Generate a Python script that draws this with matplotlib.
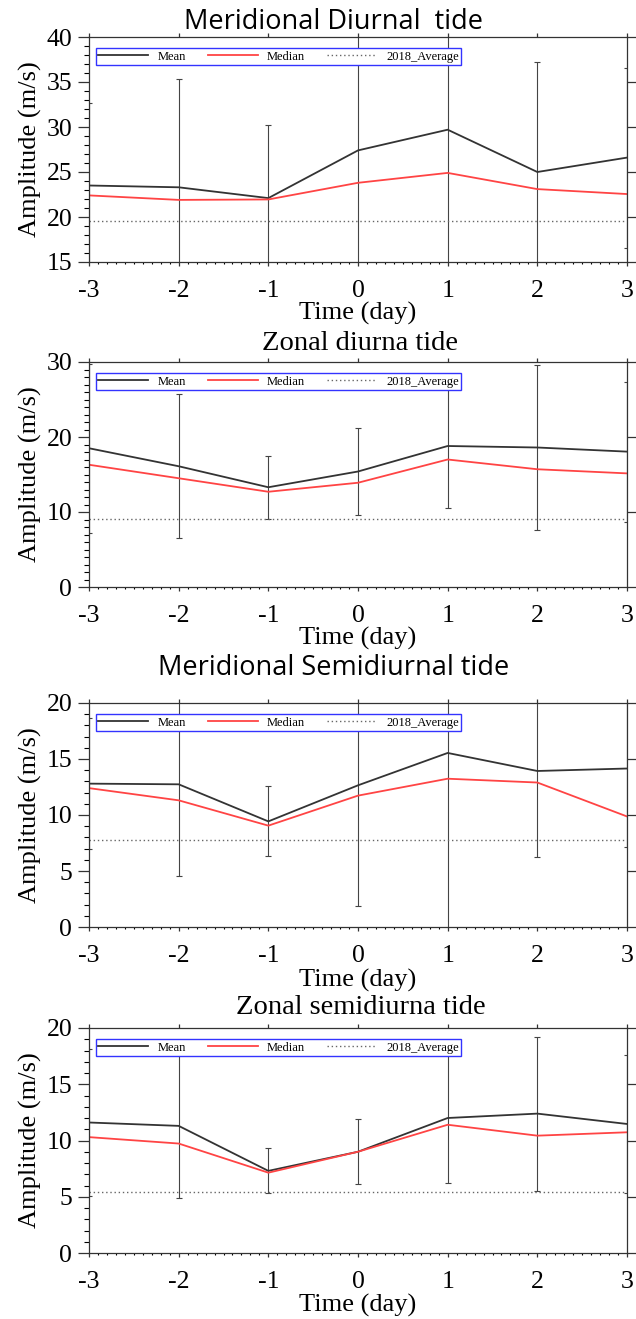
import matplotlib.pyplot as plt
from matplotlib.ticker import MultipleLocator

plt.rcParams["axes.unicode_minus"] = False

# days relative to the event
days = [-3, -2, -1, 0, 1, 2, 3]

titles = ["Meridional Diurnal  tide", "Zonal diurna tide",
          "Meridional Semidiurnal tide", "Zonal semidiurna tide"]

# Meridional diurnal
md_mean = [23.5, 23.3, 22.1, 27.4, 29.7, 25.0, 26.6]
md_median = [22.4, 21.9, 21.95, 23.8, 24.9, 23.1, 22.55]
md_std = [9.2, 12.05, 8.1, 14.5, 16.0, 12.2, 10.0]
md_avg = 19.6

# Zonal diurnal
zd_mean = [18.5, 16.1, 13.3, 15.4, 18.8, 18.6, 18.05]
zd_median = [16.3, 14.5, 12.7, 13.9, 17.0, 15.7, 15.15]
zd_std = [11.3, 9.6, 4.2, 5.8, 8.3, 11.0, 9.35]
zd_avg = 9.05

# Meridional semidiurnal
ms_mean = [12.8, 12.74, 9.43, 12.65, 15.54, 13.93, 14.15]
ms_median = [12.4, 11.31, 9.05, 11.73, 13.24, 12.9, 9.87]
ms_std = [5.85, 8.16, 3.13, 10.8, 17.0, 7.7, 7.0]
ms_avg = 7.78

# Zonal semidiurnal
zs_mean = [11.6, 11.3, 7.3, 9.0, 12.0, 12.39, 11.47]
zs_median = [10.3, 9.73, 7.14, 9.0, 11.4, 10.43, 10.73]
zs_std = [6.5, 6.4, 2.0, 2.9, 5.8, 6.85, 6.1]
zs_avg = 5.45

ylims = [(15, 40), (0, 30), (0, 20), (0, 20)]
ymajor = [5, 10, 5, 5]

panels = [(md_mean, md_median, md_std, md_avg),
          (zd_mean, zd_median, zd_std, zd_avg),
          (ms_mean, ms_median, ms_std, ms_avg),
          (zs_mean, zs_median, zs_std, zs_avg)]

W, H = 636, 1319
fig = plt.figure(figsize=(W / 100, H / 100), dpi=100)

serif = ["Liberation Serif", "DejaVu Serif"]
sans = ["Open Sans", "DejaVu Sans"]
dark = "#333333"

# axes boxes in pixels: (top, bottom)
boxes = [(37, 262), (362, 587), (703, 927), (1028, 1253)]
left_px, right_px = 89, 627
title_pos = [(333, 22), (360, 343), (334, 668), (361, 1008)]
title_font = [sans, serif, sans, serif]
title_size = [19.5, 20.5, 19.5, 20.5]
xlabel_y = [313, 638, 980, 1305]

for i, (mean, median, std, avg) in enumerate(panels):
    top, bot = boxes[i]
    ax = fig.add_axes([left_px / W, 1 - bot / H, (right_px - left_px) / W, (bot - top) / H])

    ax.errorbar(days, mean, yerr=std, fmt="none", ecolor="#444444",
                elinewidth=0.8, capsize=2, capthick=0.8)
    l1, = ax.plot(days, mean, color=dark, lw=1.3, label="Mean")
    l2, = ax.plot(days, median, color="#ff4444", lw=1.3, label="Median")
    l3 = ax.axhline(avg, color="#666666", lw=1.0, ls=(0, (1, 2)), label="2018_Average")

    ax.set_xlim(-3, 3)
    ax.set_ylim(*ylims[i])
    ax.xaxis.set_major_locator(MultipleLocator(1))
    ax.xaxis.set_minor_locator(MultipleLocator(0.1))
    ax.yaxis.set_major_locator(MultipleLocator(ymajor[i]))
    ax.yaxis.set_minor_locator(MultipleLocator(1))

    ax.tick_params(direction="out", top=True, right=True, colors=dark)
    ax.tick_params(axis="y", which="major", length=8, width=0.9, pad=4)
    ax.tick_params(axis="y", which="minor", length=3.5, width=0.8)
    ax.tick_params(axis="x", which="major", length=3, width=0.9, pad=10)
    ax.tick_params(axis="x", which="minor", length=1.5, width=0.8)
    for spine in ax.spines.values():
        spine.set_color(dark)
        spine.set_linewidth(0.9)

    for lab in ax.get_xticklabels() + ax.get_yticklabels():
        lab.set_fontfamily(serif)
        lab.set_fontsize(18.5)
        lab.set_color("black")

    ax.set_ylabel("Amplitude (m/s)", fontsize=19, family=serif, labelpad=3)

    leg = ax.legend(handles=[l1, l2, l3], ncol=3, loc="upper left",
                    bbox_to_anchor=(0.013, 0.95), prop={"family": serif, "size": 9},
                    handlelength=4.0, columnspacing=1.8, handletextpad=0.7,
                    borderpad=0.2, borderaxespad=0, fancybox=False, framealpha=1)
    leg.get_frame().set_edgecolor("#3333ff")
    leg.get_frame().set_linewidth(1.0)

    tx, ty = title_pos[i]
    fig.text(tx / W, 1 - ty / H, titles[i], ha="center", va="center",
             family=title_font[i], fontsize=title_size[i])
    fig.text(358 / W, 1 - xlabel_y[i] / H, "Time (day)", ha="center", va="center",
             family=serif, fontsize=19)

fig.savefig("out.png", dpi=100)
